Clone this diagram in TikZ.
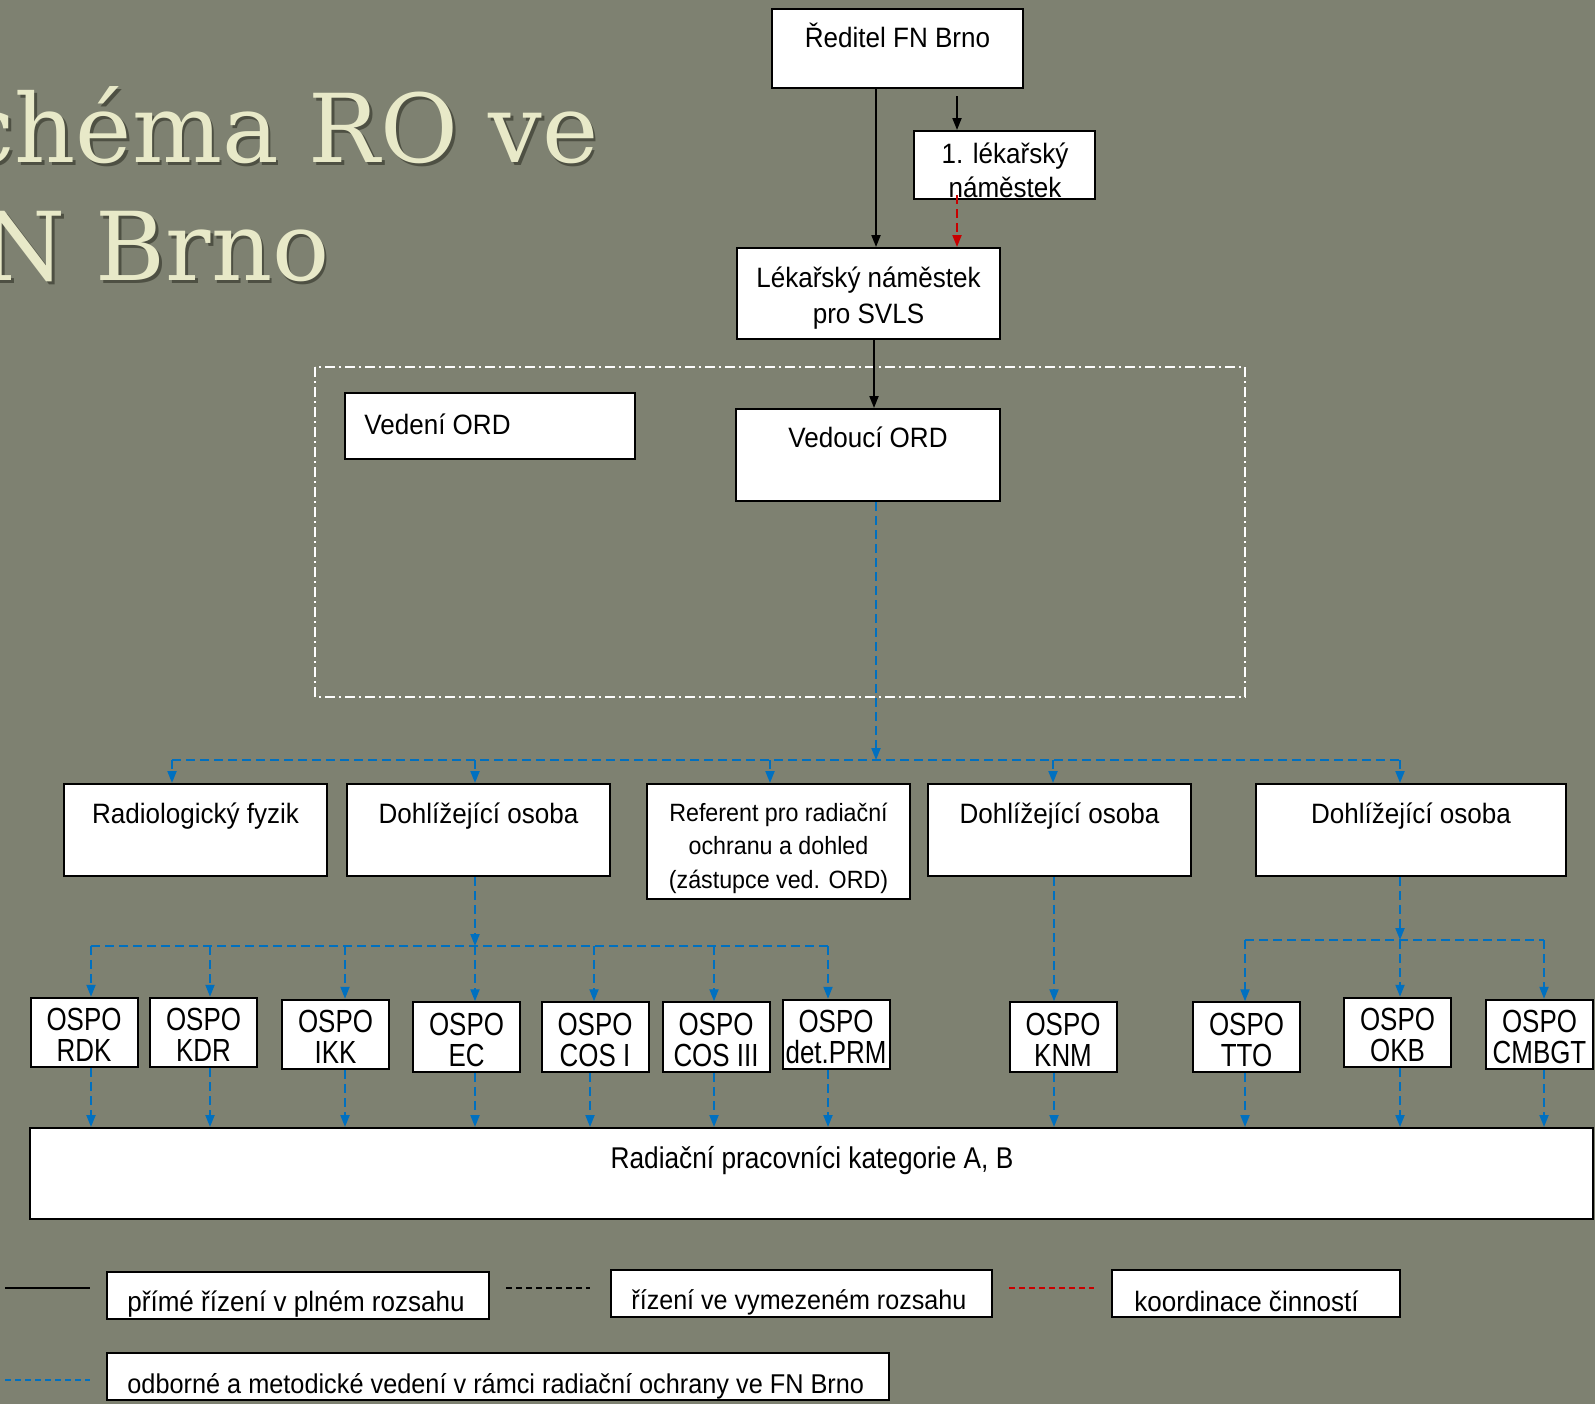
\documentclass[tikz,border=0pt]{standalone}
\usepackage{fontspec}
\setmainfont{Liberation Sans}
\newfontfamily\fA{Liberation Sans}[FakeStretch=0.93]
\newfontfamily\fB{Liberation Sans}[FakeStretch=0.81]
\newfontfamily\fC{Liberation Sans}[FakeStretch=0.875]
\newfontfamily\ftitle{DejaVu Serif}
\usetikzlibrary{arrows.meta,calc}
\definecolor{bg}{RGB}{126,129,113}
\definecolor{titlecol}{RGB}{232,233,200}
\definecolor{titleshadow}{RGB}{58,60,48}
\definecolor{lineblue}{RGB}{0,112,192}
\definecolor{linered}{RGB}{200,0,0}
\begin{document}
\begin{tikzpicture}[x=0.5pt,y=-0.5pt,
  box/.style={draw=black,line width=1pt,fill=white,inner sep=0pt},
  txt/.style={inner sep=0pt,anchor=base,font=\fA\fontsize{14pt}{16pt}\selectfont},
  otxt/.style={inner sep=0pt,anchor=base,font=\fB\fontsize{16pt}{18pt}\selectfont},
  ltxt/.style={inner sep=0pt,anchor=base west,font=\fA\fontsize{14pt}{16pt}\selectfont},
  tip/.style={-{Triangle[length=6pt,width=4.5pt]}},
  solidline/.style={draw=black,line width=1pt},
  blueline/.style={draw=lineblue,line width=1pt,dash pattern=on 4.5pt off 2.5pt},
  redline/.style={draw=linered,line width=1pt,dash pattern=on 4.5pt off 2.5pt},
  blackdash/.style={draw=black,line width=1pt,dash pattern=on 3pt off 2pt},
  titletxt/.style={inner sep=0pt,anchor=base east,font=\ftitle\fontsize{47.5pt}{50pt}\selectfont}
]
\useasboundingbox (0,0) rectangle (1595,1404);
\fill[bg] (0,0) rectangle (1595,1404);
\begin{scope}
\clip (0,0) rectangle (1595,1404);
% title
\node[titletxt,text=titleshadow,opacity=0.7] (title1s) at (601.5,165) {Schéma RO ve};
\node[titletxt,text=titleshadow,opacity=0.7] (title2s) at (332.5,283) {FN Brno};
\node[titletxt,text=titlecol] (title1) at (599,162) {Schéma RO ve};
\node[titletxt,text=titlecol] (title2) at (330,280) {FN Brno};

% group frame
\draw[white,line width=0.75pt,dash pattern=on 5pt off 2pt on 1pt off 2pt] (315,367) rectangle (1245,697);

% top boxes
\node[box,minimum width=125.5pt,minimum height=39.5pt] (red) at (897.5,48.5) {};
\node[box,minimum width=90.5pt,minimum height=34pt] (nam1) at (1004.5,165) {};
\node[box,minimum width=131.5pt,minimum height=45.5pt] (lns) at (868.5,293.5) {};
\node[box,minimum width=145pt,minimum height=33pt] (vedeni) at (490,426) {};
\node[box,minimum width=132pt,minimum height=46pt] (vedouci) at (868,455) {};

\node[txt] (redt) at (897.5,47) {Ředitel FN Brno};
\node[txt] (nam1t1) at (1005,163) {1. lékařský};
\node[txt] (nam1t2) at (1005,197) {náměstek};
\node[txt] (lnst1) at (868.5,287) {Lékařský náměstek};
\node[txt] (lnst2) at (868.5,323) {pro SVLS};
\node[txt,anchor=base west] (vedenit) at (364,434) {Vedení ORD};
\node[txt] (vedoucit) at (868,447) {Vedoucí ORD};

% second row
\node[box,minimum width=131.5pt,minimum height=46pt] (radfyz) at (195.5,830) {};
\node[box,minimum width=131.5pt,minimum height=46pt] (dohlA) at (478.5,830) {};
\node[box,minimum width=131.5pt,minimum height=57.5pt] (referent) at (778.5,841.5) {};
\node[box,minimum width=131.5pt,minimum height=46pt] (dohlB) at (1059.5,830) {};
\node[box,minimum width=155pt,minimum height=46pt] (dohlC) at (1411,830) {};

\node[txt] (radfyzt) at (195.5,823) {Radiologický fyzik};
\node[txt] (dohlAt) at (478.5,823) {Dohlížející osoba};
\node[txt,font=\fA\fontsize{12.5pt}{14pt}\selectfont] (reft1) at (778.5,821) {Referent pro radiační};
\node[txt,font=\fA\fontsize{12.5pt}{14pt}\selectfont] (reft2) at (778.5,854) {ochranu a dohled};
\node[txt,font=\fA\fontsize{12.5pt}{14pt}\selectfont] (reft3) at (778.5,888) {(zástupce ved. ORD)};
\node[txt] (dohlBt) at (1059.5,823) {Dohlížející osoba};
\node[txt] (dohlCt) at (1411,823) {Dohlížející osoba};

% OSPO boxes
\foreach \n/\cx/\cy/\lab in {rdk/84/1032.5/RDK, kdr/203.5/1032.5/KDR, ikk/335.5/1034.5/IKK,
  ec/466.5/1037/EC, cos1/595/1037/COS I, cos3/716/1037/COS III, prm/836/1034.5/det.PRM,
  knm/1063/1037/KNM, tto/1246.5/1037/TTO, okb/1397.5/1032.5/OKB, cmbgt/1539.5/1034.5/CMBGT}{
  \node[box,minimum width=53.5pt,minimum height=34.75pt] (\n) at (\cx,\cy) {};
  \node[otxt] (\n-a) at ($(\n.north)+(0,34)$) {OSPO};
  \node[otxt] (\n-b) at ($(\n.north)+(0,65)$) {\lab};
}

% big box
\node[box,minimum width=781.5pt,minimum height=45.5pt] (big) at (811.5,1173.5) {};
\node[txt,font=\fC\fontsize{15pt}{17pt}\selectfont] (bigt) at (812,1168) {Radiační pracovníci kategorie A, B};

% legend
\node[box,minimum width=191pt,minimum height=23.5pt] (leg1) at (298,1295.5) {};
\node[box,minimum width=190.5pt,minimum height=23.5pt] (leg2) at (801.5,1293.5) {};
\node[box,minimum width=144pt,minimum height=23.5pt] (leg3) at (1256,1293.5) {};
\node[box,minimum width=391pt,minimum height=23.5pt] (leg4) at (498,1376.5) {};
\node[ltxt] (leg1t) at (127,1311) {přímé řízení v plném rozsahu};
\node[ltxt,font=\fA\fontsize{13.5pt}{16pt}\selectfont] (leg2t) at (631,1309) {řízení ve vymezeném rozsahu};
\node[ltxt] (leg3t) at (1134,1311) {koordinace činností};
\node[ltxt,font=\fA\fontsize{13.6pt}{16pt}\selectfont] (leg4t) at (127,1393) {odborné a metodické vedení v rámci radiační ochrany ve FN Brno};

\coordinate (s1a) at (5,1288); \coordinate (s1b) at (90,1288);
\coordinate (s2a) at (506,1288); \coordinate (s2b) at (590,1288);
\coordinate (s3a) at (1009,1288); \coordinate (s3b) at (1094,1288);
\coordinate (s4a) at (5,1380); \coordinate (s4b) at (90,1380);
\draw[solidline] (s1a) -- (s1b);
\draw[blackdash] (s2a) -- (s2b);
\draw[redline,dash pattern=on 3pt off 2pt] (s3a) -- (s3b);
\draw[blueline,dash pattern=on 3pt off 2pt] (s4a) -- (s4b);

% top connectors
\draw[solidline,tip] (red.south -| 876,0) -- (lns.north -| 876,0);
\draw[solidline,tip,shorten <=3.5pt] (red.south -| 957,0) -- (nam1.north -| 957,0);
\draw[redline,tip,shorten <=-2.5pt] (nam1.south -| 957,0) -- (lns.north -| 957,0);
\draw[solidline,tip] (lns.south -| 874,0) -- (vedouci.north -| 874,0);

% bus 1
\coordinate (bus1c) at (876,760);
\coordinate (bus1l) at (172,760);
\coordinate (bus1r) at (1400,760);
\draw[blueline,tip] (vedouci.south -| bus1c) -- (bus1c);
\draw[blueline] (bus1l) -- (bus1r);
\draw[blueline,tip] (bus1l) -- (radfyz.north -| bus1l);
\draw[blueline,tip] (bus1l -| 475,0) -- (dohlA.north -| 475,0);
\draw[blueline,tip] (bus1l -| 770,0) -- (referent.north -| 770,0);
\draw[blueline,tip] (bus1l -| 1053,0) -- (dohlB.north -| 1053,0);
\draw[blueline,tip] (bus1r) -- (dohlC.north -| bus1r);

% bus 2
\coordinate (bus2l) at (91,946);
\coordinate (bus2r) at (828,946);
\draw[blueline,tip] (dohlA.south -| 475,0) -- (bus2l -| 475,0);
\draw[blueline] (bus2l) -- (bus2r);
\foreach \n/\x/\y in {rdk/91/91, kdr/210/210, ikk/345/345, ec/475/475, cos1/594/590, cos3/714/714, prm/828/828}{
  \draw[blueline,tip] (bus2l -| \x,0) -- (\n.north -| \x,0);
  \draw[blueline,tip] (\n.south -| \y,0) -- (big.north -| \y,0);
}

% KNM
\draw[blueline,tip] (dohlB.south -| 1054,0) -- (knm.north -| 1054,0);
\draw[blueline,tip] (knm.south -| 1054,0) -- (big.north -| 1054,0);

% bus 3
\coordinate (bus3l) at (1245,940);
\coordinate (bus3r) at (1544,940);
\draw[blueline,tip] (dohlC.south -| 1400,0) -- (bus3l -| 1400,0);
\draw[blueline] (bus3l) -- (bus3r);
\foreach \n/\x in {tto/1245, okb/1400, cmbgt/1544}{
  \draw[blueline,tip] (bus3l -| \x,0) -- (\n.north -| \x,0);
  \draw[blueline,tip] (\n.south -| \x,0) -- (big.north -| \x,0);
}
\end{scope}
\end{tikzpicture}
\end{document}
